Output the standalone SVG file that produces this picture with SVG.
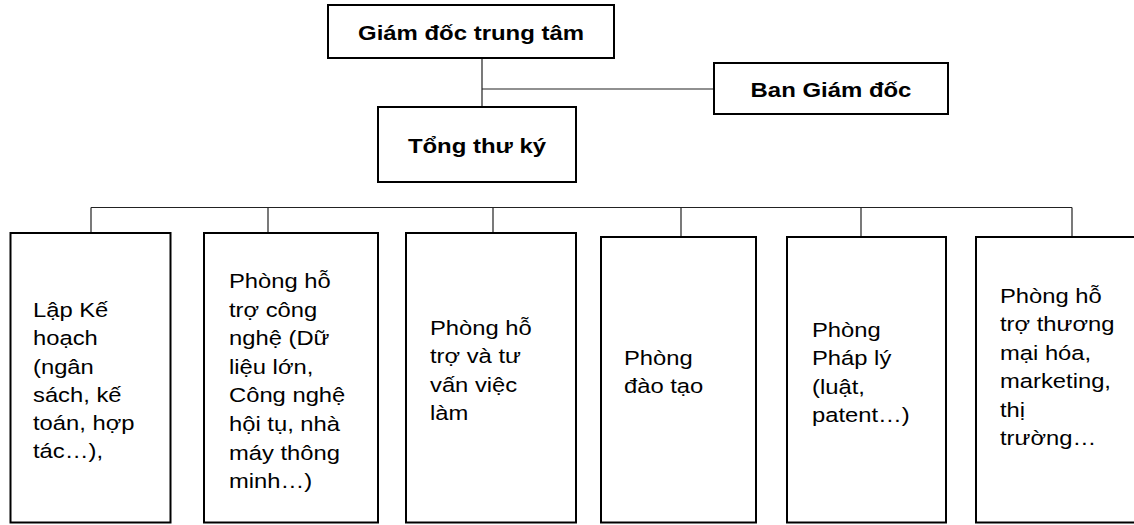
<svg xmlns="http://www.w3.org/2000/svg" width="1134" height="525" viewBox="0 0 1134 525">
<style>
.box{fill:#fff;stroke:#000;stroke-width:2}
.conn{fill:none;stroke:#222;stroke-width:1.2}
.t{font-family:"Liberation Sans",Arial,sans-serif;font-size:20.5px;fill:#000}
.b{font-family:"Liberation Sans",Arial,sans-serif;font-size:21px;font-weight:bold;fill:#000;text-anchor:middle}
</style>
<rect width="1134" height="525" fill="#fff"/>
<g id="connectors">
<path class="conn" d="M482,58V107M482,89H714"/>
<path class="conn" d="M91,207.5H1072M91,207.5V233M268,207.5V233M493,207.5V233M681,207.5V237M861,207.5V237M1072,207.5V237"/>
</g>
<g id="giam-doc">
<rect class="box" x="328" y="5" width="286" height="53"/>
<text class="b" transform="translate(471,40) scale(1.14,1)">Giám đốc trung tâm</text>
</g>
<g id="ban-giam-doc">
<rect class="box" x="714" y="63" width="234" height="51"/>
<text class="b" transform="translate(831,97) scale(1.14,1)">Ban Giám đốc</text>
</g>
<g id="tong-thu-ky">
<rect class="box" x="378" y="107" width="198" height="75"/>
<text class="b" transform="translate(477,153) scale(1.14,1)">Tổng thư ký</text>
</g>
<g id="lap-ke-hoach">
<rect class="box" x="10.5" y="233" width="160" height="289.5"/>
<text class="t" transform="translate(33,317) scale(1.16,1)"><tspan x="0" y="0">Lập Kế</tspan><tspan x="0" dy="28.3">hoạch</tspan><tspan x="0" dy="28.3">(ngân</tspan><tspan x="0" dy="28.3">sách, kế</tspan><tspan x="0" dy="28.3">toán, hợp</tspan><tspan x="0" dy="28.3">tác…),</tspan></text>
</g>
<g id="ho-tro-cong-nghe">
<rect class="box" x="204" y="233" width="174" height="289.5"/>
<text class="t" transform="translate(229,288) scale(1.16,1)"><tspan x="0" y="0">Phòng hỗ</tspan><tspan x="0" dy="28.6">trợ công</tspan><tspan x="0" dy="28.6">nghệ (Dữ</tspan><tspan x="0" dy="28.6">liệu lớn,</tspan><tspan x="0" dy="28.6">Công nghệ</tspan><tspan x="0" dy="28.6">hội tụ, nhà</tspan><tspan x="0" dy="28.6">máy thông</tspan><tspan x="0" dy="28.6">minh…)</tspan></text>
</g>
<g id="tu-van-viec-lam">
<rect class="box" x="406" y="233" width="170" height="289.5"/>
<text class="t" transform="translate(430,335) scale(1.16,1)"><tspan x="0" y="0">Phòng hỗ</tspan><tspan x="0" dy="28.4">trợ và tư</tspan><tspan x="0" dy="28.4">vấn việc</tspan><tspan x="0" dy="28.4">làm</tspan></text>
</g>
<g id="dao-tao">
<rect class="box" x="601" y="237" width="155" height="285.5"/>
<text class="t" transform="translate(624,365) scale(1.16,1)"><tspan x="0" y="0">Phòng</tspan><tspan x="0" dy="28.4">đào tạo</tspan></text>
</g>
<g id="phap-ly">
<rect class="box" x="787" y="237" width="159" height="285.5"/>
<text class="t" transform="translate(812,337) scale(1.16,1)"><tspan x="0" y="0">Phòng</tspan><tspan x="0" dy="28.4">Pháp lý</tspan><tspan x="0" dy="28.4">(luật,</tspan><tspan x="0" dy="28.4">patent…)</tspan></text>
</g>
<g id="thuong-mai-hoa">
<rect class="box" x="976" y="237" width="170" height="285.5"/>
<text class="t" transform="translate(1000,303) scale(1.16,1)"><tspan x="0" y="0">Phòng hỗ</tspan><tspan x="0" dy="28.4">trợ thương</tspan><tspan x="0" dy="28.4">mại hóa,</tspan><tspan x="0" dy="28.4">marketing,</tspan><tspan x="0" dy="28.4">thị</tspan><tspan x="0" dy="28.4">trường…</tspan></text>
</g>
</svg>
